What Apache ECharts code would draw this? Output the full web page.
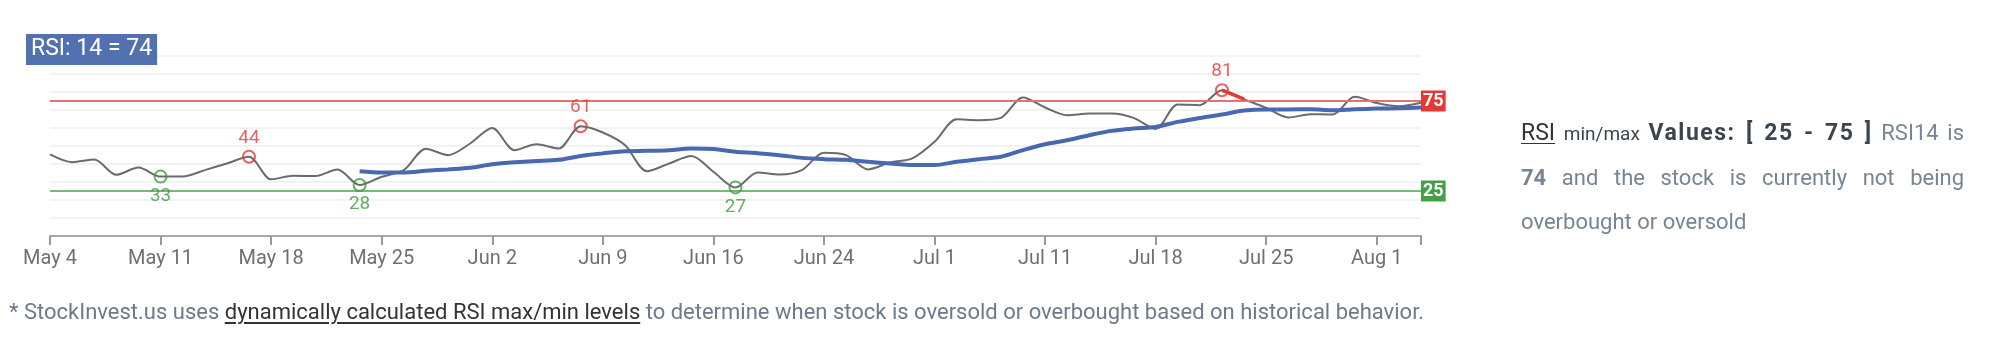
<!DOCTYPE html>
<html style="height: 100%">
   <head>
       <meta charset="utf-8">
       <style>
         body { margin: 0; width: 1996px; height: 350px; position: relative; background: #fff; font-family: Roboto, sans-serif; overflow: hidden; }
         #container { position: absolute; left: 0; top: 0; width: 1996px; height: 350px; }
         #side { position: absolute; left: 1521px; top: 111px; width: 443px; font-size: 22px; line-height: 44px; color: #778592; text-align: justify; }
         #side .dark { color: #3b4550; font-size: 23px; letter-spacing: 1.5px; }
         #side u { color: #333; font-size: 23px; text-decoration-thickness: 1px; text-underline-offset: 3px; }
         #side .small { font-size: 19px; color: #3b4550; }
         #note { position: absolute; left: 9px; top: 298px; font-size: 22px; line-height: 28px; color: #6c7a89; white-space: nowrap; }
         #note u { color: #333; text-underline-offset: 3px; }
       </style>
   </head>
   <body>
       <div id="container"></div>
       <div id="side"><u>RSI</u> <span class="small">min/max</span> <b class="dark">Values: [ 25 - 75 ]</b> RSI14 is <b>74</b> and the stock is currently not being overbought or oversold</div>
       <div id="note">* StockInvest.us uses <u>dynamically calculated RSI max/min levels</u> to determine when stock is oversold or overbought based on historical behavior.</div>
       <script type="text/javascript" src="https://cdn.jsdelivr.net/npm/echarts@6/dist/echarts.min.js"></script>
       <script type="text/javascript">

var dates = ['May 4','May 5','May 6','May 7','May 8','May 11','May 12','May 13','May 14','May 15',
    'May 18','May 19','May 20','May 21','May 22','May 25','May 26','May 27','May 28','May 29',
    'Jun 2','Jun 3','Jun 4','Jun 5','Jun 8','Jun 9','Jun 10','Jun 11','Jun 12','Jun 15',
    'Jun 16','Jun 17','Jun 18','Jun 19','Jun 23','Jun 24','Jun 25','Jun 26','Jun 29','Jun 30',
    'Jul 1','Jul 2','Jul 6','Jul 8','Jul 10','Jul 11','Jul 14','Jul 15','Jul 16','Jul 17',
    'Jul 18','Jul 21','Jul 22','Jul 23','Jul 24','Jul 25','Jul 28','Jul 29','Jul 30','Jul 31',
    'Aug 1','Aug 4','Aug 5'];

// RSI 14
var rsi = [45.3, 41, 42.5, 34, 38, 33, 33, 36.6, 40.3, 44,
    31.5, 33.5, 33.3, 37, 28.3, 32.9, 36.6, 48.5, 44.9, 51.4,
    60, 47.7, 51, 48.6, 61, 57.5, 50.5, 36, 40.3, 44.4,
    35.7, 27, 35.3, 34.2, 36.6, 46.2, 44.9, 37, 40.9, 43.1,
    52.3, 64.8, 64.3, 65.6, 77, 71.4, 67.1, 68, 68, 65.6,
    59.5, 73, 72.7, 81, 76, 71.2, 65.8, 67.7, 67.5, 77.3,
    73.9, 72.1, 74];

// smoothed RSI (blue)
var rsiAvg = [null, null, null, null, null, null, null, null, null, null,
    null, null, null, null, 36, 35.3, 35.3, 36.2, 37, 37.9,
    39.9, 41, 41.6, 42.3, 44.5, 45.9, 47.1, 47.3, 47.7, 48.6,
    48.3, 46.8, 46, 44.9, 43.4, 42.7, 42.3, 41.2, 40.3, 39.4,
    39.4, 41.2, 42.7, 44, 47.7, 51, 53.2, 56, 58.4, 59.7,
    60.6, 63.4, 65.6, 67.5, 69.7, 70.3, 70.3, 70.4, 69.9, 70.4,
    70.8, 71, 71.4];

var lowIdx = [5, 14, 31];
var highIdx = [9, 24, 53];
var overbought = 75;
var oversold = 25;

var redSeg = rsi.map(function (v, i) { return (i === 53 || i === 54) ? v : null; });

function pts(idx, color, pos) {
    return idx.map(function (i) {
        return {
            value: [i, rsi[i]],
            itemStyle: { color: 'rgba(255,255,255,0)', borderColor: color, borderWidth: 2 },
            label: {
                show: true, position: pos, color: color, distance: pos === 'top' ? 2 : 3,
                fontSize: 19, fontFamily: 'Roboto',
                formatter: function (p) { return Math.round(p.value[1]); }
            }
        };
    });
}

var dom = document.getElementById("container");
var myChart = echarts.init(dom);
var option = {
    animation: false,
    textStyle: { fontFamily: 'Roboto' },
    title: {
        text: 'RSI: 14 = 74',
        left: 26,
        top: 34,
        padding: [4, 5, 4, 5],
        backgroundColor: '#5171b0',
        textStyle: { color: '#fff', fontSize: 23, fontWeight: 'normal', fontFamily: 'Roboto', lineHeight: 23 }
    },
    grid: { left: 50, right: 575, top: 56, bottom: 114 },
    xAxis: {
        type: 'category',
        data: dates,
        boundaryGap: false,
        axisLine: { lineStyle: { color: '#a8a8a8', width: 2 } },
        axisTick: {
            interval: function (i) { return i % 5 === 0 || i === dates.length - 1; },
            length: 9,
            lineStyle: { color: '#999', width: 2 }
        },
        axisLabel: {
            interval: function (i) { return i % 5 === 0; },
            color: '#707070',
            fontSize: 20,
            margin: 13
        },
        splitLine: { show: false }
    },
    yAxis: {
        type: 'value',
        min: 0,
        max: 100,
        interval: 10,
        axisLabel: { show: false },
        axisLine: { show: false },
        axisTick: { show: false },
        splitLine: { lineStyle: { color: '#f1f2f7', width: 2 } }
    },
    series: [
        {
            name: 'RSI',
            type: 'line',
            data: rsi,
            smooth: 0.3,
            symbol: 'none',
            lineStyle: { color: '#6b6b6b', width: 2 },
            z: 3,
            markLine: {
                silent: true,
                symbol: 'none',
                lineStyle: { type: 'solid', width: 2 },
                label: {
                    position: 'end',
                    distance: 0,
                    formatter: '{c}',
                    color: '#fff',
                    fontWeight: 'bold',
                    fontSize: 18,
                    lineHeight: 18,
                    padding: [2, 2, 1, 2]
                },
                data: [
                    { yAxis: overbought, lineStyle: { color: '#ea7070' }, label: { backgroundColor: '#e53935' } },
                    { yAxis: oversold, lineStyle: { color: '#78b878' }, label: { backgroundColor: '#43a047' } }
                ]
            }
        },
        {
            name: 'RSI avg',
            type: 'line',
            data: rsiAvg,
            smooth: 0.3,
            symbol: 'none',
            lineStyle: { color: '#4a68b0', width: 4 },
            z: 4
        },
        {
            type: 'line',
            data: redSeg,
            symbol: 'none',
            lineStyle: { color: '#e53935', width: 3.5 },
            z: 5
        },
        {
            type: 'scatter',
            symbol: 'circle',
            symbolSize: 12,
            z: 6,
            data: pts(lowIdx, '#3d9b3d', 'bottom').concat(pts(highIdx, '#e53935', 'top'))
        }
    ]
};
myChart.setOption(option);

window.onresize = function () {
    myChart.resize();
};
       </script>
   </body>
</html>
